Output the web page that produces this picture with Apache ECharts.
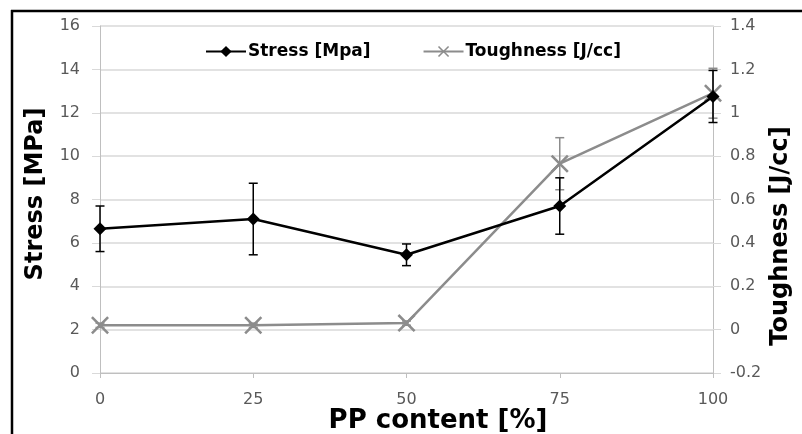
<!DOCTYPE html>
<html>
<head>
<meta charset="utf-8">
<script src="https://cdn.jsdelivr.net/npm/echarts@6/dist/echarts.min.js"></script>
<style>
  html, body { margin: 0; padding: 0; background: #fff; overflow: hidden; }
  #chart { width: 802px; height: 434px; }
</style>
</head>
<body>
<div id="chart"></div>
<script>
// PP content categories and measured properties
const categories = ['0', '25', '50', '75', '100'];
const stress = [6.65, 7.1, 5.45, 7.7, 12.75];
const stressErr = [1.05, 1.65, 0.5, 1.3, 1.2];
const toughness = [0.02, 0.02, 0.03, 0.765, 1.09];
const toughnessErr = [0.01, 0.01, 0.01, 0.12, 0.115];

const FONT = 'DejaVu Sans';
const GREY = '#8c8c8c';
const CROSS = 'path://M0,2 L2,0 L10,8 L18,0 L20,2 L12,10 L20,18 L18,20 L10,12 L2,20 L0,18 L8,10 Z';

// vertical error bar with caps, drawn through the axis scales
function errorBars(values, errs, color, yAxisIndex) {
  return {
    type: 'custom',
    yAxisIndex: yAxisIndex,
    silent: true,
    z: 1,
    data: values.map((v, i) => [i, v - errs[i], v + errs[i]]),
    renderItem: function (params, api) {
      const lo = api.coord([api.value(0), api.value(1)]);
      const hi = api.coord([api.value(0), api.value(2)]);
      const cap = 4.5;
      const style = { stroke: color, lineWidth: 1.5 };
      return {
        type: 'group',
        children: [
          { type: 'line', shape: { x1: lo[0], y1: lo[1], x2: hi[0], y2: hi[1] }, style: style },
          { type: 'line', shape: { x1: lo[0] - cap, y1: lo[1], x2: lo[0] + cap, y2: lo[1] }, style: style },
          { type: 'line', shape: { x1: hi[0] - cap, y1: hi[1], x2: hi[0] + cap, y2: hi[1] }, style: style }
        ]
      };
    }
  };
}

const chart = echarts.init(document.getElementById('chart'), null, { renderer: 'canvas' });

const tickLabel = { color: '#595959', fontFamily: FONT, fontSize: 16 };
const fmt1 = v => String(parseFloat(v.toFixed(1)));

chart.setOption({
  backgroundColor: '#fff',
  animation: false,
  grid: { left: 100, right: 89, top: 26, bottom: 61 },
  legend: {
    data: ['Stress [Mpa]', 'Toughness [J/cc]'],
    left: 200,
    top: 38,
    itemWidth: 40,
    itemHeight: 14,
    itemGap: 52,
    textStyle: { color: '#000', fontFamily: FONT, fontSize: 17, fontWeight: 'bold', padding: [0, 0, 0, -3] }
  },
  xAxis: {
    type: 'category',
    data: categories,
    boundaryGap: false,
    axisLine: { lineStyle: { color: '#bfbfbf', width: 1 } },
    axisTick: { show: true, length: 5, interval: 0, lineStyle: { color: '#bfbfbf' } },
    axisLabel: Object.assign({ margin: 19, interval: 0 }, tickLabel),
    splitLine: { show: false }
  },
  yAxis: [
    {
      type: 'value',
      min: 0, max: 16, interval: 2,
      axisLine: { show: true, lineStyle: { color: '#bfbfbf' } },
      axisTick: { show: true, length: 8, lineStyle: { color: '#d9d9d9' } },
      axisLabel: Object.assign({ margin: 20 }, tickLabel),
      splitLine: { show: true, lineStyle: { color: '#d9d9d9', width: 1.5 } }
    },
    {
      type: 'value',
      min: -0.2, max: 1.4, interval: 0.2,
      axisLine: { show: true, lineStyle: { color: '#bfbfbf' } },
      axisTick: { show: true, length: 8, lineStyle: { color: '#d9d9d9' } },
      axisLabel: Object.assign({ margin: 17, formatter: fmt1 }, tickLabel),
      splitLine: { show: false }
    }
  ],
  graphic: [
    // outer frame: top and left edges
    {
      type: 'line', silent: true, z: 100,
      shape: { x1: 11, y1: 11, x2: 802, y2: 11 },
      style: { stroke: '#000', lineWidth: 2.5 }
    },
    {
      type: 'line', silent: true, z: 100,
      shape: { x1: 12, y1: 10, x2: 12, y2: 434 },
      style: { stroke: '#000', lineWidth: 2.5 }
    },
    {
      type: 'text', x: 36, y: 194, rotation: Math.PI / 2,
      style: { text: 'Stress [MPa]', fontFamily: FONT, fontSize: 24, fontWeight: 'bold', fill: '#000', align: 'center', verticalAlign: 'middle' }
    },
    {
      type: 'text', x: 781, y: 236, rotation: Math.PI / 2,
      style: { text: 'Toughness [J/cc]', fontFamily: FONT, fontSize: 24, fontWeight: 'bold', fill: '#000', align: 'center', verticalAlign: 'middle' }
    },
    {
      type: 'text', x: 438, y: 421,
      style: { text: 'PP content [%]', fontFamily: FONT, fontSize: 26, fontWeight: 'bold', fill: '#000', align: 'center', verticalAlign: 'middle' }
    }
  ],
  series: [
    errorBars(toughness, toughnessErr, GREY, 1),
    errorBars(stress, stressErr, '#000', 0),
    {
      name: 'Toughness [J/cc]',
      type: 'line',
      yAxisIndex: 1,
      data: toughness,
      symbol: CROSS,
      symbolSize: 18,
      z: 3,
      itemStyle: { color: GREY },
      lineStyle: { color: GREY, width: 2.5 }
    },
    {
      name: 'Stress [Mpa]',
      type: 'line',
      yAxisIndex: 0,
      data: stress,
      symbol: 'diamond',
      symbolSize: 13,
      z: 4,
      itemStyle: { color: '#000' },
      lineStyle: { color: '#000', width: 2.5 }
    }
  ]
});
</script>
</body>
</html>
